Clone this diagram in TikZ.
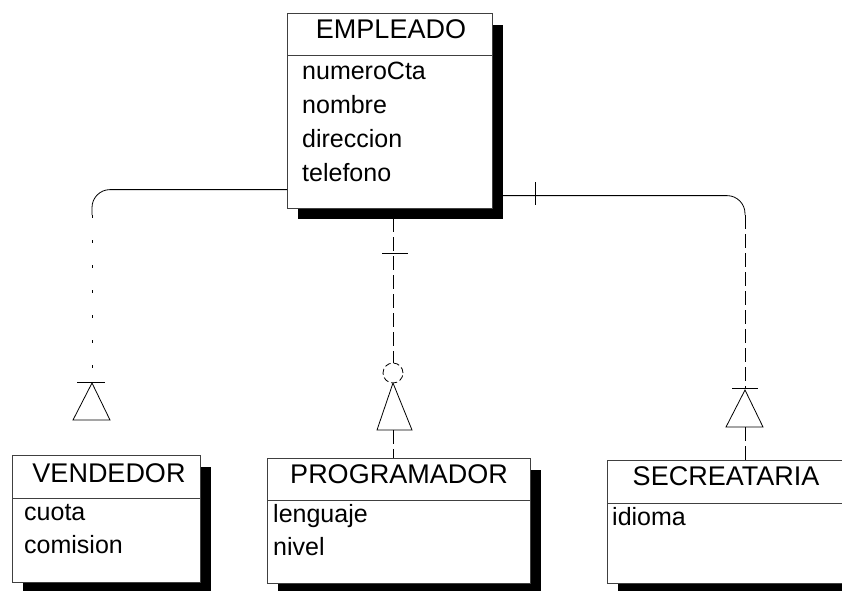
\documentclass[tikz,border=0pt]{standalone}
\usepackage{fontspec}
\setmainfont{Liberation Sans}
\usetikzlibrary{calc}
\begin{document}
\begin{tikzpicture}[x=1pt,y=-1pt,
  umlbox/.style={draw=black!75, line width=0.6pt, inner sep=0pt, anchor=north west},
  hdr/.style={font=\fontsize{27}{32}\selectfont, anchor=base, inner sep=0pt},
  attr/.style={font=\fontsize{25}{30}\selectfont, anchor=base west, inner sep=0pt},
  conn/.style={line width=0.8pt},
  vconn/.style={line width=0.8pt, dash pattern=on 14pt off 5pt},
  faintconn/.style={line width=0.6pt, dash pattern=on 3pt off 22pt},
  tickbar/.style={line width=0.8pt},
  genl/.style={line width=0.8pt, line join=miter},
]
\useasboundingbox (0,0) rectangle (842,590);
\clip (0,0) rectangle (842,590);

% ---------- boxes ----------
\node[umlbox, minimum width=205pt, minimum height=195pt] (emp) at (287,13) {};
\node[umlbox, minimum width=188pt, minimum height=127pt] (ven) at (12,455) {};
\node[umlbox, minimum width=263pt, minimum height=125pt] (prog) at (267,458) {};
\node[umlbox, minimum width=260pt, minimum height=123pt] (sec) at (607,460) {};

% shadows
\foreach \b in {emp,ven,prog,sec}{
  \fill ($(\b.north east)+(0,12)$) rectangle ($(\b.south east)+(10,10)$);
  \fill ($(\b.south west)+(11,0)$) rectangle ($(\b.south east)+(10,10)$);
}

% separators
\draw[draw=black!75, line width=0.6pt] ($(emp.north west)+(0,42)$) -- ($(emp.north east)+(0,42)$);
\draw[draw=black!75, line width=0.6pt] ($(ven.north west)+(0,43)$) -- ($(ven.north east)+(0,43)$);
\draw[draw=black!75, line width=0.6pt] ($(prog.north west)+(0,42)$) -- ($(prog.north east)+(0,42)$);
\draw[draw=black!75, line width=0.6pt] ($(sec.north west)+(0,43)$) -- ($(sec.north east)+(0,43)$);

% ---------- texts ----------
\node[hdr] (empT) at (391,38) {EMPLEADO};
\node[attr] (e1) at (302,79) {numeroCta};
\node[attr] (e2) at (302,113) {nombre};
\node[attr] (e3) at (302,147) {direccion};
\node[attr] (e4) at (302,181) {telefono};

\node[hdr] (venT) at (109,482) {VENDEDOR};
\node[attr] (v1) at (24,520) {cuota};
\node[attr] (v2) at (24,553) {comision};

\node[hdr] (progT) at (399,483) {PROGRAMADOR};
\node[attr] (p1) at (273,522) {lenguaje};
\node[attr] (p2) at (273,555) {nivel};

\node[hdr] (secT) at (726,485) {SECREATARIA};
\node[attr] (s1) at (612,525) {idioma};

% ---------- left connector (VENDEDOR) ----------
\coordinate (lbend) at (92,215);
\coordinate (lapex) at (92,383);
\coordinate (lbl) at (73,420);
\coordinate (lbr) at (110,420);
\draw[conn, rounded corners=18pt] ($(emp.south west)+(0,-19)$) -| (lbend);
\draw[faintconn] (lbend) -- (lapex);
\draw[tickbar] (77,382) -- (105,382);
\draw[genl] (lbl) -- (lapex) -- (lbr) -- cycle;

% ---------- middle connector (PROGRAMADOR) ----------
\coordinate (mtop) at (393,218);
\node[draw, circle, minimum size=20pt, inner sep=0pt, line width=0.8pt, dash pattern=on 6pt off 3pt] (mcirc) at (393,373) {};
\coordinate (mapex) at (393,383);
\coordinate (mbl) at (377,430);
\coordinate (mbr) at (412,430);
\coordinate (mbase) at (393,430);
\draw[vconn] (mtop) -- (mcirc.north);
\draw[tickbar] (382,253) -- (408,253);
\draw[genl] (mbl) -- (mapex) -- (mbr) -- cycle;
\draw[vconn] (mbase) -- (mbase |- prog.north);

% ---------- right connector (SECREATARIA) ----------
\coordinate (rbend) at (745,215);
\coordinate (rapex) at (745,390);
\coordinate (rbl) at (726,427);
\coordinate (rbr) at (763,427);
\coordinate (rbase) at (745,427);
\draw[conn, rounded corners=18pt] ($(emp.south east)+(10,-13)$) -| (rbend);
\draw[vconn] (rbend) -- (745,388);
\draw[tickbar] (535,182) -- (535,205);
\draw[tickbar] (732,388) -- (758,388);
\draw[genl] (rbl) -- (rapex) -- (rbr) -- cycle;
\draw[vconn] (rbase) -- (rbase |- sec.north);
\end{tikzpicture}
\end{document}
